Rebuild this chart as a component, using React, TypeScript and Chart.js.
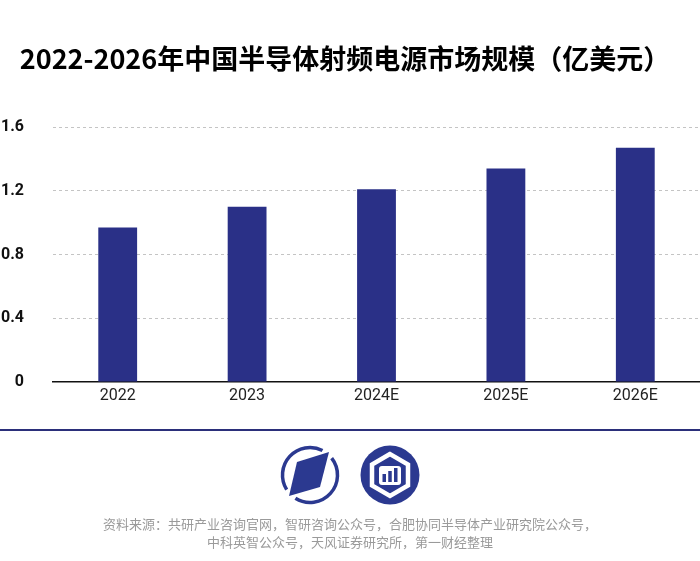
import React, { useEffect, useRef } from "react";
import { Chart, registerables } from "chart.js";

Chart.register(...registerables);

const categories = ["2022", "2023", "2024E", "2025E", "2026E"];
const values = [0.97, 1.1, 1.21, 1.34, 1.47];
const yTicks = [0, 0.4, 0.8, 1.2, 1.6];

const titleText = "2022-2026年中国半导体射频电源市场规模（亿美元）";
const sourceLines = [
  "资料来源：共研产业咨询官网，智研咨询公众号，合肥协同半导体产业研究院公众号，",
  "中科英智公众号，天风证券研究所，第一财经整理",
];

const NAVY = "#2a3087";
const LOGO = "#2b3990";

function arcPath(r: number, a0: number, a1: number) {
  const rad = (d: number) => (d * Math.PI) / 180;
  const x0 = r * Math.cos(rad(a0));
  const y0 = r * Math.sin(rad(a0));
  const x1 = r * Math.cos(rad(a1));
  const y1 = r * Math.sin(rad(a1));
  const large = a1 - a0 > 180 ? 1 : 0;
  return `M ${x0} ${y0} A ${r} ${r} 0 ${large} 1 ${x1} ${y1}`;
}

export default function App() {
  const ref = useRef<HTMLCanvasElement | null>(null);

  useEffect(() => {
    if (!ref.current) return;
    const chart = new Chart(ref.current, {
      type: "bar",
      data: {
        labels: categories,
        datasets: [
          {
            data: values,
            backgroundColor: NAVY,
            barPercentage: 0.3,
            categoryPercentage: 1,
          },
        ],
      },
      options: {
        animation: false,
        responsive: false,
        maintainAspectRatio: false,
        layout: { padding: { top: 127, bottom: 149, left: 0, right: 0 } },
        plugins: {
          legend: { display: false },
          tooltip: { enabled: false },
          title: { display: false },
        },
        scales: {
          x: {
            grid: { display: false, drawTicks: false },
            border: { display: true, color: "#111111", width: 1.5 },
            ticks: {
              padding: 4,
              color: "#222222",
              font: { family: "Roboto", size: 16 },
            },
            afterFit: (s: any) => {
              s.height = 30;
            },
          },
          y: {
            min: 0,
            max: 1.6,
            afterBuildTicks: (s: any) => {
              s.ticks = yTicks.map((v) => ({ value: v }));
            },
            grid: {
              drawTicks: false,
              color: (c: any) =>
                c.tick && c.tick.value === 0 ? "rgba(0,0,0,0)" : "#c4c4c4",
              lineWidth: 1,
            },
            border: { display: false, dash: [3, 3] },
            ticks: {
              padding: 29,
              color: "#111111",
              font: { family: "Roboto", size: 16, weight: "bold" },
              callback: (v: any) => (Number(v) === 0 ? "0" : Number(v).toFixed(1)),
            },
            afterFit: (s: any) => {
              s.width = 53;
            },
          },
        },
      } as any,
    });
    return () => chart.destroy();
  }, []);

  return (
    <div
      style={{
        position: "absolute",
        left: 0,
        top: 0,
        width: 700,
        height: 561,
        background: "#ffffff",
        overflow: "hidden",
      }}
    >
      <canvas
        ref={ref}
        width={700}
        height={561}
        style={{ position: "absolute", left: 0, top: 0, width: 700, height: 561 }}
      />
      <div
        style={{
          position: "absolute",
          left: 0,
          top: 40,
          width: 690,
          textAlign: "center",
          fontFamily: "'Noto Sans CJK SC', 'Noto Sans', sans-serif",
          fontWeight: 700,
          fontSize: 27,
          lineHeight: "36px",
          color: "#000000",
          whiteSpace: "nowrap",
        }}
      >
        {titleText}
      </div>
      <div
        style={{
          position: "absolute",
          left: 0,
          top: 428.5,
          width: 700,
          height: 2,
          background: "#2b2f7a",
        }}
      />
      <svg
        style={{ position: "absolute", left: 275, top: 440 }}
        width={70}
        height={70}
        viewBox="-35 -35 70 70"
      >
        <path d={arcPath(27.5, -38, 122)} stroke={LOGO} strokeWidth={3.5} fill="none" />
        <path d={arcPath(27.5, 148, 297)} stroke={LOGO} strokeWidth={3.5} fill="none" />
        <polygon points="-13,-13 19,-23 10,12 -21,21" fill={LOGO} />
      </svg>
      <svg
        style={{ position: "absolute", left: 355, top: 440 }}
        width={70}
        height={70}
        viewBox="-35 -35 70 70"
      >
        <circle cx={0} cy={0} r={29.5} fill={LOGO} />
        <polygon
          points="0,-21 -18,-10.5 -18,10.5 0,21 18,10.5 18,-10.5"
          fill="none"
          stroke="#ffffff"
          strokeWidth={4.5}
          strokeLinejoin="miter"
        />
        <rect x={-11} y={-9} width={22} height={19} rx={3} fill="#ffffff" />
        <rect x={-7.5} y={-1} width={3.5} height={8} fill={LOGO} />
        <rect x={-1.75} y={-4} width={3.5} height={11} fill={LOGO} />
        <rect x={4} y={-7} width={3.5} height={14} fill={LOGO} />
      </svg>
      <div
        style={{
          position: "absolute",
          left: 0,
          top: 515,
          width: 700,
          textAlign: "center",
          fontFamily: "'Noto Sans CJK SC', sans-serif",
          fontSize: 13,
          lineHeight: "18px",
          color: "#9a9a9a",
          whiteSpace: "nowrap",
        }}
      >
        <div>{sourceLines[0]}</div>
        <div>{sourceLines[1]}</div>
      </div>
    </div>
  );
}
